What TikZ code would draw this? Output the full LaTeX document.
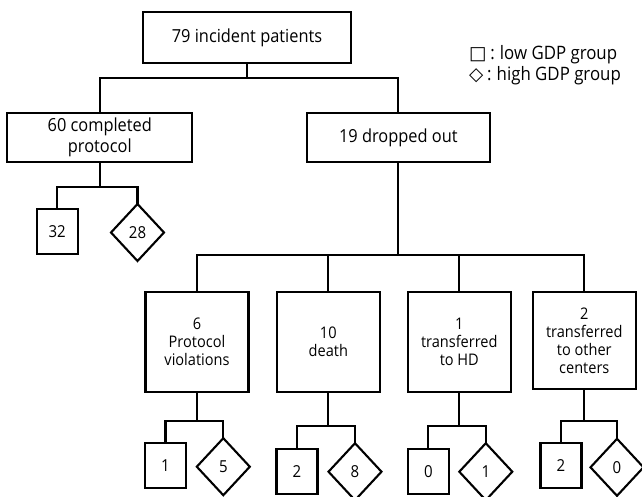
\documentclass[tikz,border=0pt]{standalone}
\usepackage{fontspec}
\setmainfont{Open Sans}[FakeStretch=0.91]
\newfontfamily\symfont{DejaVu Sans}
\usetikzlibrary{shapes.geometric}
\begin{document}
\begin{tikzpicture}[x=1pt,y=-1pt,
  every node/.style={inner sep=0pt, outer sep=0pt, text=black},
  line/.style={draw=black, line width=2.1pt},
  topbox/.style={draw=black, line width=2.1pt, rectangle, align=center, font=\fontsize{18}{20.7}\selectfont},
  subbox/.style={draw=black, line width=2.1pt, rectangle, align=center, minimum width=103pt, minimum height=100pt, font=\fontsize{16}{18}\selectfont},
  sq/.style={draw=black, line width=2.1pt, rectangle, minimum width=41pt, minimum height=45pt, font=\fontsize{16.5}{19}\selectfont},
  dia/.style={draw=black, line width=2.1pt, diamond, minimum width=53pt, minimum height=57pt, font=\fontsize{16.5}{19}\selectfont},
]
\useasboundingbox (0,0) rectangle (642,496);

% top levels
\node[topbox, minimum width=207.4pt, minimum height=51.6pt] (top) at (247,37.5) {79 incident patients};
\node[topbox, minimum width=185pt, minimum height=49pt] (left) at (99.8,137.5) {60 completed\\protocol};
\node[topbox, minimum width=183.3pt, minimum height=49pt] (right) at (398.3,137.5) {19 dropped out};

% legend
\node[anchor=west, align=left, font=\fontsize{18.5}{20.5}\selectfont] (legend) at (469,65) {{\symfont □}\hspace{4pt}:\hspace{5pt}low GDP group\\{\symfont ◇}\hspace{4pt}:\hspace{5pt}high GDP group};

% completed protocol split
\node[sq] (s32) at (57.2,231.8) {32};
\node[dia] (d28) at (137.5,232.5) {28};

% dropped out reasons
\node[subbox] (b1) at (197,342) {6\\Protocol\\violations};
\node[subbox] (b2) at (328.3,342) {10\\death};
\node[subbox] (b3) at (459.3,342) {1\\transferred\\to HD};
\node[subbox, minimum height=97pt] (b4) at (584.3,340.7) {2\\transferred\\to other\\centers};

% bottom groups
\node[sq] (s1) at (165.5,465.2) {1};
\node[dia] (d5) at (223.3,466.7) {5};
\node[sq] (s2) at (297,471.5) {2};
\node[dia] (d8) at (355,471.7) {8};
\node[sq] (s0) at (428.3,471.5) {0};
\node[dia] (d1) at (485.8,471.7) {1};
\node[sq] (s2b) at (561,465.8) {2};
\node[dia] (d0) at (617,467.3) {0};

% junctions
\coordinate (j0) at (247,77.7);
\coordinate (j1) at (99.8,187.3);
\coordinate (j2) at (398.3,255);
\coordinate (j3) at (197,420.7);
\coordinate (j4) at (328.3,425.7);
\coordinate (j5) at (459.3,426);
\coordinate (j6) at (584.3,421);

% connectors
\draw[line] (top.south) -- (j0);
\draw[line] (left.north) |- (j0) -| (right.north);
\draw[line] (left.south) -- (j1);
\draw[line] (s32.north) |- (j1) -| (d28.north);
\draw[line] (right.south) -- (j2);
\draw[line] (b1.north) |- (j2) -| (b4.north);
\draw[line] (j2) -| (b2.north);
\draw[line] (j2) -| (b3.north);
\draw[line] (b1.south) -- (j3);
\draw[line] (s1.north) |- (j3) -| (d5.north);
\draw[line] (b2.south) -- (j4);
\draw[line] (s2.north) |- (j4) -| (d8.north);
\draw[line] (b3.south) -- (j5);
\draw[line] (s0.north) |- (j5) -| (d1.north);
\draw[line] (b4.south) -- (j6);
\draw[line] (s2b.north) |- (j6) -| (d0.north);
\end{tikzpicture}
\end{document}
